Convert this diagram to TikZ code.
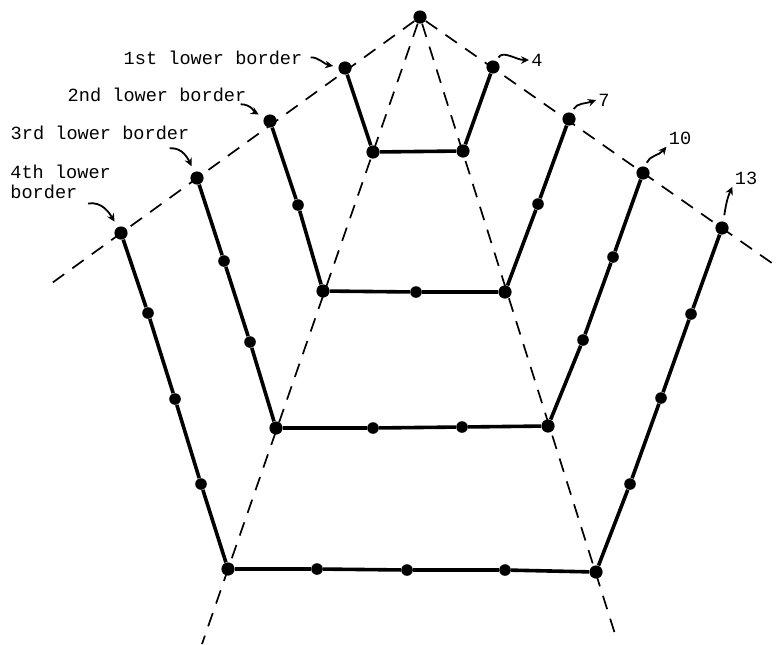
\documentclass[tikz,border=0pt]{standalone}
\usepackage{fontspec}
\setmonofont{Liberation Mono}
\usetikzlibrary{arrows.meta}

\tikzset{
  dot/.style={circle,fill,inner sep=0pt,minimum size=5.8pt},
  bigdot/.style={dot,minimum size=6.6pt},
  border/.style={line width=1.8pt},
  guide/.style={line width=0.85pt,dash pattern=on 7pt off 5pt},
  lbl/.style={font=\ttfamily\fontsize{9.3}{10}\selectfont,inner sep=1pt,align=left},
  pointer/.style={line width=0.9pt,-{Stealth[length=4pt,width=3.8pt]}},
}

\begin{document}
\begin{tikzpicture}[x=0.5pt,y=-0.5pt]
\useasboundingbox (0,0) rectangle (779,644);

\node[bigdot] (apex) at (420,17) {};

% 1st lower border
\node[bigdot] (a1) at (345,68) {};
\node[bigdot] (b1) at (373,152) {};
\node[bigdot] (c1) at (463,151) {};
\node[bigdot] (d1) at (493,67) {};

% 2nd lower border
\node[bigdot] (a2) at (270,121) {};
\node[dot] (a2x) at (298,205) {};
\node[bigdot] (b2) at (323,291) {};
\node[dot] (b2x) at (416,292) {};
\node[bigdot] (c2) at (505,292) {};
\node[dot] (c2x) at (538,204) {};
\node[bigdot] (d2) at (569,119) {};

% 3rd lower border
\node[bigdot] (a3) at (197,178) {};
\node[dot] (a3x) at (224,261) {};
\node[dot] (a3y) at (250,342) {};
\node[bigdot] (b3) at (276,428) {};
\node[dot] (b3x) at (373,428) {};
\node[dot] (b3y) at (462,427) {};
\node[bigdot] (c3) at (548,426) {};
\node[dot] (c3x) at (583,340) {};
\node[dot] (c3y) at (613,257) {};
\node[bigdot] (d3) at (643,173) {};

% 4th lower border
\node[bigdot] (a4) at (121,233) {};
\node[dot] (a4x) at (148,313) {};
\node[dot] (a4y) at (175,399) {};
\node[dot] (a4z) at (201,484) {};
\node[bigdot] (b4) at (228,569) {};
\node[dot] (b4x) at (317,569) {};
\node[dot] (b4y) at (407,570) {};
\node[dot] (b4z) at (505,570) {};
\node[bigdot] (c4) at (596,572) {};
\node[dot] (c4x) at (630,484) {};
\node[dot] (c4y) at (661,398) {};
\node[dot] (c4z) at (691,314) {};
\node[bigdot] (d4) at (722,228) {};

% free ends of the dashed lines
\coordinate (upL) at (52,283);
\coordinate (upR) at (779,268);
\coordinate (lowL) at (202,644);
\coordinate (lowR) at (615,634);

\draw[guide] (apex) -- (upL);
\draw[guide] (apex) -- (upR);
\draw[guide] (apex) -- (lowL);
\draw[guide] (apex) -- (lowR);

\draw[border] (a1) -- (b1) -- (c1) -- (d1);
\draw[border] (a2) -- (a2x) -- (b2) -- (b2x) -- (c2) -- (c2x) -- (d2);
\draw[border] (a3) -- (a3x) -- (a3y) -- (b3) -- (b3x) -- (b3y) -- (c3) -- (c3x) -- (c3y) -- (d3);
\draw[border] (a4) -- (a4x) -- (a4y) -- (a4z) -- (b4) -- (b4x) -- (b4y) -- (b4z) -- (c4) -- (c4x) -- (c4y) -- (c4z) -- (d4);

% labels
\node[lbl] (l1) at (213,58) {1st lower border};
\node[lbl] (l2) at (157,95) {2nd lower border};
\node[lbl] (l3) at (100,133) {3rd lower border};
\node[lbl,anchor=north west] (l4) at (8,163) {4th lower\\border};

\draw[pointer,shorten <=3pt,shorten >=2.5pt] (l1.east) to[out=5,in=170] (a1);
\draw[pointer,shorten >=3pt] ([xshift=-4pt]l2.south east) to[out=0,in=150] (a2);
\draw[pointer,shorten >=3pt] ([xshift=-11pt,yshift=-3pt]l3.south east) to[out=5,in=115] (a3);
\draw[pointer,shorten >=3pt] ([xshift=40pt,yshift=-1pt]l4.south west) to[out=10,in=120] (a4);

\node[lbl] (n4) at (537,60) {4};
\node[lbl] (n7) at (604,100) {7};
\node[lbl] (n10) at (680,138) {10};
\node[lbl] (n13) at (746,178) {13};

\draw[pointer,shorten <=2pt] (d1) to[out=60,in=180] (n4.west);
\draw[pointer,shorten <=2pt] (d2) to[out=65,in=200] (n7.west);
\draw[pointer,shorten <=2pt] (d3) to[out=70,in=230] (n10.south west);
\draw[pointer,shorten <=3pt] (d4) to[out=80,in=245] (n13.south west);
\end{tikzpicture}
\end{document}
